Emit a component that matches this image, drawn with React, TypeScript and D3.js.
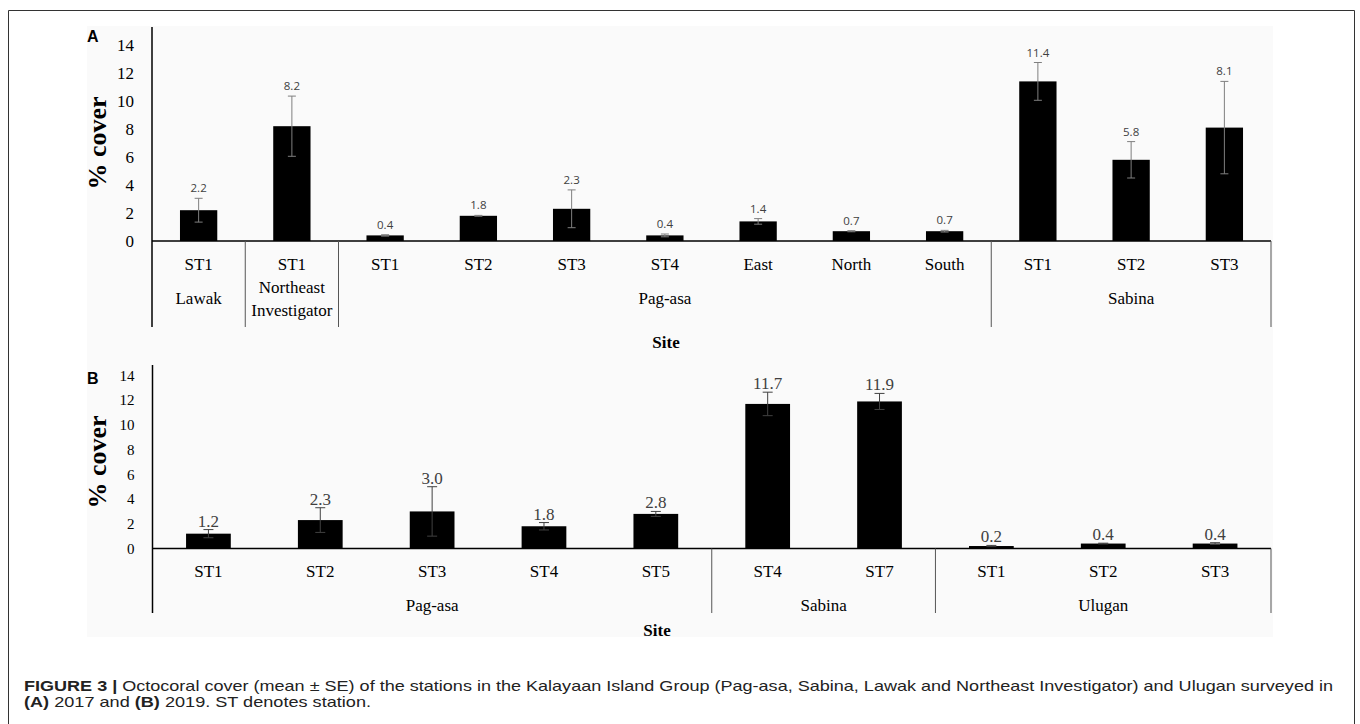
import React, { useEffect, useRef } from "react";
import * as d3 from "d3";

const yTicks = [0, 2, 4, 6, 8, 10, 12, 14];

// (A) 2017 survey
const stations2017 = ["ST1", "ST1", "ST1", "ST2", "ST3", "ST4", "East", "North", "South", "ST1", "ST2", "ST3"];
const cover2017 = [2.2, 8.2, 0.4, 1.8, 2.3, 0.4, 1.4, 0.7, 0.7, 11.4, 5.8, 8.1];
const se2017 = [0.85, 2.15, 0.05, 0.03, 1.35, 0.1, 0.2, 0.04, 0.06, 1.35, 1.3, 3.3];
const sites2017 = ["Lawak", "Northeast Investigator", "Pag-asa", "Sabina"];
const siteSizes2017 = [1, 1, 7, 3];

// (B) 2019 survey
const stations2019 = ["ST1", "ST2", "ST3", "ST4", "ST5", "ST4", "ST7", "ST1", "ST2", "ST3"];
const cover2019 = [1.2, 2.3, 3.0, 1.8, 2.8, 11.7, 11.9, 0.2, 0.4, 0.4];
const se2019 = [0.33, 1.0, 2.0, 0.3, 0.2, 0.95, 0.65, 0.05, 0.03, 0.07];
const sites2019 = ["Pag-asa", "Sabina", "Ulugan"];
const siteSizes2019 = [5, 2, 3];

const SERIF = "'Liberation Serif', 'Times New Roman', serif";
const SANS = "'Liberation Sans', Arial, sans-serif";

interface PanelOpts {
    tag: string;
    tagY: number;
    stations: string[];
    values: number[];
    errors: number[];
    sites: string[];
    siteSizes: number[];
    left: number;
    right: number;
    axisTop: number;
    zeroY: number;
    maxY: number;
    sepBottom: number;
    stationY: number;
    siteY: number;
    titleY: number;
    titleX: number;
    tickSize: number;
    valueFont: string;
    valueSize: number;
    valueGap: number;
    errColor: string;
    capHalf: number;
}

function drawPanel(svg, o: PanelOpts) {
    const g = svg.append("g");
    const idx = o.values.map((_, i) => String(i));

    const x = d3.scaleBand()
        .domain(idx)
        .range([o.left, o.right])
        .paddingInner(0.6)
        .paddingOuter(0.3);

    const y = d3.scaleLinear()
        .domain([0, 14])
        .range([o.zeroY, o.maxY]);

    // tick labels (no tick marks)
    g.selectAll(".ytick")
        .data(yTicks)
        .join("text")
        .attr("x", o.left - 18)
        .attr("y", d => y(d))
        .attr("dy", "0.35em")
        .attr("text-anchor", "end")
        .style("font-family", SERIF)
        .style("font-size", `${o.tickSize}px`)
        .attr("fill", "#000")
        .text(d => d);

    // y title
    g.append("text")
        .attr("transform", `translate(97,${(o.zeroY + o.maxY) / 2}) rotate(-90)`)
        .attr("text-anchor", "middle")
        .attr("dy", "0.35em")
        .style("font-family", SERIF)
        .style("font-size", "26px")
        .style("font-weight", "bold")
        .text("% cover");

    // panel tag
    g.append("text")
        .attr("x", 87)
        .attr("y", o.tagY)
        .style("font-family", SANS)
        .style("font-size", "16px")
        .style("font-weight", "bold")
        .text(o.tag);

    // bars
    g.selectAll(".bar")
        .data(o.values)
        .join("rect")
        .attr("x", (_, i) => x(String(i)))
        .attr("y", d => y(d))
        .attr("width", x.bandwidth())
        .attr("height", d => o.zeroY - y(d))
        .attr("fill", "#000");

    // error bars
    const cx = (i: number) => x(String(i)) + x.bandwidth() / 2;
    const err = g.selectAll(".err")
        .data(o.values)
        .join("g")
        .attr("stroke", o.errColor)
        .attr("stroke-width", 1);
    err.append("line")
        .attr("x1", (_, i) => cx(i)).attr("x2", (_, i) => cx(i))
        .attr("y1", (d, i) => y(d + o.errors[i]))
        .attr("y2", (d, i) => y(Math.max(0, d - o.errors[i])));
    err.append("line")
        .attr("x1", (_, i) => cx(i) - o.capHalf).attr("x2", (_, i) => cx(i) + o.capHalf)
        .attr("y1", (d, i) => y(d + o.errors[i]))
        .attr("y2", (d, i) => y(d + o.errors[i]));
    err.append("line")
        .attr("x1", (_, i) => cx(i) - o.capHalf).attr("x2", (_, i) => cx(i) + o.capHalf)
        .attr("y1", (d, i) => y(Math.max(0, d - o.errors[i])))
        .attr("y2", (d, i) => y(Math.max(0, d - o.errors[i])));

    // value labels
    g.selectAll(".val")
        .data(o.values)
        .join("text")
        .attr("x", (_, i) => cx(i))
        .attr("y", (d, i) => y(d + o.errors[i]) - o.valueGap)
        .attr("text-anchor", "middle")
        .style("font-family", o.valueFont)
        .style("font-size", `${o.valueSize}px`)
        .attr("fill", "#404040")
        .text(d => d.toFixed(1));

    // axis lines
    g.append("line")
        .attr("x1", o.left).attr("x2", o.left)
        .attr("y1", o.axisTop).attr("y2", o.sepBottom)
        .attr("stroke", "#000").attr("stroke-width", 1.5);
    g.append("line")
        .attr("x1", o.left).attr("x2", o.right)
        .attr("y1", o.zeroY).attr("y2", o.zeroY)
        .attr("stroke", "#000").attr("stroke-width", 1.5);

    // station labels
    g.selectAll(".st")
        .data(o.stations)
        .join("text")
        .attr("x", (_, i) => cx(i))
        .attr("y", o.stationY)
        .attr("dy", "0.35em")
        .attr("text-anchor", "middle")
        .style("font-family", SERIF)
        .style("font-size", "17px")
        .text(d => d);

    // site groups: separators + names
    const step = x.step();
    let start = 0;
    o.sites.forEach((site, k) => {
        const n = o.siteSizes[k];
        const x0 = o.left + start * step;
        const x1 = o.left + (start + n) * step;
        g.append("line")
            .attr("x1", x1).attr("x2", x1)
            .attr("y1", o.zeroY).attr("y2", o.sepBottom)
            .attr("stroke", "#555").attr("stroke-width", 1);
        const lines = n === 1 ? site.split(" ") : [site];
        lines.forEach((ln, j) => {
            g.append("text")
                .attr("x", (x0 + x1) / 2)
                .attr("y", o.siteY + (lines.length > 1 ? -11 + j * 23 : 0))
                .attr("dy", "0.35em")
                .attr("text-anchor", "middle")
                .style("font-family", SERIF)
                .style("font-size", "17px")
                .text(ln);
        });
        start += n;
    });

    // x title
    g.append("text")
        .attr("x", o.titleX)
        .attr("y", o.titleY)
        .attr("dy", "0.35em")
        .attr("text-anchor", "middle")
        .style("font-family", SERIF)
        .style("font-size", "17px")
        .style("font-weight", "bold")
        .text("Site");
}

export default function App() {
    const svgRef = useRef(null);
    const width = 1360;
    const height = 724;

    useEffect(() => {
        const svg = d3.select(svgRef.current);
        svg.selectAll("*").remove();

        svg.append("rect").attr("width", width).attr("height", height).attr("fill", "#fff");
        // faint image background of the figure
        svg.append("rect").attr("x", 87).attr("y", 26).attr("width", 1186).attr("height", 611).attr("fill", "#fafafa");

        // figure frame
        svg.append("path")
            .attr("d", `M8.5,${height} V10.5 H1354.5 V${height}`)
            .attr("fill", "none")
            .attr("stroke", "#333")
            .attr("stroke-width", 1);

        drawPanel(svg, {
            tag: "A",
            tagY: 42,
            stations: stations2017,
            values: cover2017,
            errors: se2017,
            sites: sites2017,
            siteSizes: siteSizes2017,
            left: 152,
            right: 1271,
            axisTop: 27,
            zeroY: 241,
            maxY: 45,
            sepBottom: 327,
            stationY: 264,
            siteY: 298,
            titleY: 342,
            titleX: 666,
            tickSize: 17,
            valueFont: "'Open Sans', 'DejaVu Sans', sans-serif",
            valueSize: 11.5,
            valueGap: 6,
            errColor: "#7f7f7f",
            capHalf: 4,
        });

        drawPanel(svg, {
            tag: "B",
            tagY: 384,
            stations: stations2019,
            values: cover2019,
            errors: se2019,
            sites: sites2019,
            siteSizes: siteSizes2019,
            left: 152.5,
            right: 1271,
            axisTop: 365,
            zeroY: 548.5,
            maxY: 375.5,
            sepBottom: 613,
            stationY: 571,
            siteY: 605,
            titleY: 630,
            titleX: 657,
            tickSize: 15,
            valueFont: SERIF,
            valueSize: 17,
            valueGap: 3,
            errColor: "#404040",
            capHalf: 5,
        });

        // caption
        const cap = svg.append("g")
            .style("font-family", "'Liberation Sans Narrow', 'Liberation Sans', Arial, sans-serif")
            .style("font-size", "15px")
            .attr("fill", "#222");
        const l1 = cap.append("text").attr("x", 24).attr("y", 691)
            .attr("textLength", 1309).attr("lengthAdjust", "spacingAndGlyphs");
        l1.append("tspan").style("font-weight", "bold").text("FIGURE 3 | ");
        l1.append("tspan").text("Octocoral cover (mean \u00B1 SE) of the stations in the Kalayaan Island Group (Pag-asa, Sabina, Lawak and Northeast Investigator) and Ulugan surveyed in");
        const l2 = cap.append("text").attr("x", 24).attr("y", 707)
            .attr("textLength", 347).attr("lengthAdjust", "spacingAndGlyphs");
        l2.append("tspan").style("font-weight", "bold").text("(A)");
        l2.append("tspan").text(" 2017 and ");
        l2.append("tspan").style("font-weight", "bold").text("(B)");
        l2.append("tspan").text(" 2019. ST denotes station.");
    }, []);

    return (
        <svg
            ref={svgRef}
            width={width}
            height={height}
            style={{ position: "absolute", left: 0, top: 0, display: "block" }}
        />
    );
}
